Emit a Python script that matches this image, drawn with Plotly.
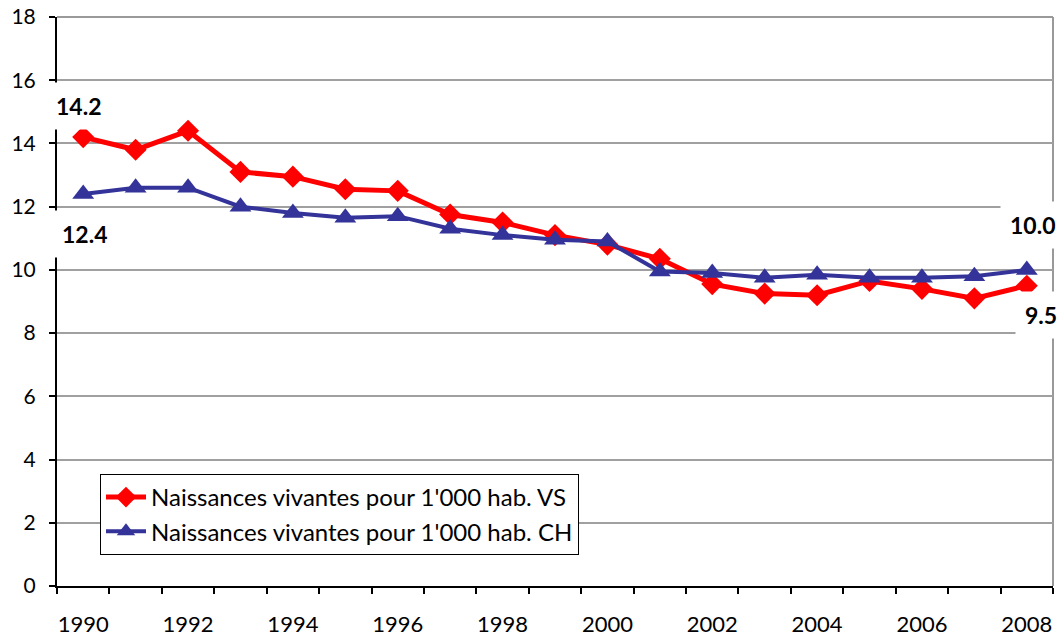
import plotly.graph_objects as go

years = list(range(1990, 2009))
vs = [14.2, 13.8, 14.4, 13.1, 12.95, 12.55, 12.5, 11.75, 11.5, 11.1, 10.8, 10.35, 9.55, 9.25, 9.2, 9.65, 9.4, 9.1, 9.5]
ch = [12.4, 12.6, 12.6, 12.0, 11.8, 11.65, 11.7, 11.3, 11.1, 10.95, 10.9, 9.95, 9.9, 9.75, 9.85, 9.75, 9.75, 9.8, 10.0]
name_vs = "Naissances vivantes pour 1'000 hab. VS"
name_ch = "Naissances vivantes pour 1'000 hab. CH"
xtick_vals = list(range(1990, 2009, 2))
ytick_vals = list(range(0, 19, 2))

FONT = "Lato"

fig = go.Figure()
fig.add_trace(go.Scatter(x=years, y=vs, name=name_vs, mode="lines+markers",
                         line=dict(color="#FF0000", width=5),
                         marker=dict(symbol="diamond", size=17, color="#FF0000")))
fig.add_trace(go.Scatter(x=years, y=ch, name=name_ch, mode="lines+markers",
                         line=dict(color="#333399", width=4),
                         marker=dict(symbol="triangle-up", size=19, color="#333399")))

ann_font = dict(family=FONT, size=23, color="black", weight="bold")
anns = [
    (years[0], vs[0], f"{vs[0]:.1f}", -5, -31),
    (years[0], ch[0], f"{ch[0]:.1f}", 1, 40),
    (years[-1], ch[-1], f"{ch[-1]:.1f}", 6, -45),
    (years[-1], vs[-1], f"{vs[-1]:.1f}", 14, 29),
]
for x, y, t, ax, ay in anns:
    fig.add_annotation(x=x, y=y, text=t, showarrow=True, arrowcolor="rgba(0,0,0,0)",
                       ax=ax, ay=ay, font=ann_font, bgcolor="white", borderpad=9,
                       xanchor="center", yanchor="middle")

# grey plot-area border on top and right
fig.add_shape(type="line", xref="paper", yref="paper", x0=1, x1=1, y0=0, y1=1,
              line=dict(color="#999999", width=2), layer="below")
fig.add_shape(type="line", xref="paper", yref="paper", x0=0, x1=1, y0=1, y1=1,
              line=dict(color="#999999", width=2), layer="below")

W, H = 1063, 637
L, T, R, B = 57, 17, 10, 51

fig.update_layout(
    width=W, height=H,
    margin=dict(l=L, r=R, t=T, b=B, autoexpand=False),
    paper_bgcolor="white", plot_bgcolor="white",
    font=dict(family=FONT, size=22, color="black"),
    showlegend=True,
    legend=dict(x=(100 - 57) / 996, y=(586 - 474) / 569, xanchor="left", yanchor="top",
                bgcolor="white", bordercolor="black", borderwidth=1,
                font=dict(family=FONT, size=24), tracegroupgap=0, itemwidth=40),
    xaxis=dict(range=[1989.5, 2008.5], tickvals=xtick_vals, ticktext=[str(v) for v in xtick_vals],
               ticks="", showgrid=False, zeroline=False, showline=True, linecolor="black", linewidth=2,
               ticklabelstandoff=18, tickfont=dict(family=FONT, size=22), automargin=False,
               ticklabeloverflow="allow",
               minor=dict(tickvals=[y - 0.5 for y in years] + [2008.5], ticks="outside", ticklen=6,
                          tickcolor="black", tickwidth=2, showgrid=False)),
    yaxis=dict(range=[0, 18], tickvals=ytick_vals, ticks="outside", ticklen=6, tickcolor="black",
               tickwidth=2, showgrid=True, gridcolor="#A0A0A0", gridwidth=2, zeroline=False,
               showline=True, linecolor="black", linewidth=2, ticklabelstandoff=9,
               tickfont=dict(family=FONT, size=21), automargin=False, ticklabeloverflow="allow"),
)

fig.write_html("out.html", config={"displayModeBar": False},
               post_script="document.body.style.margin='0px';")
